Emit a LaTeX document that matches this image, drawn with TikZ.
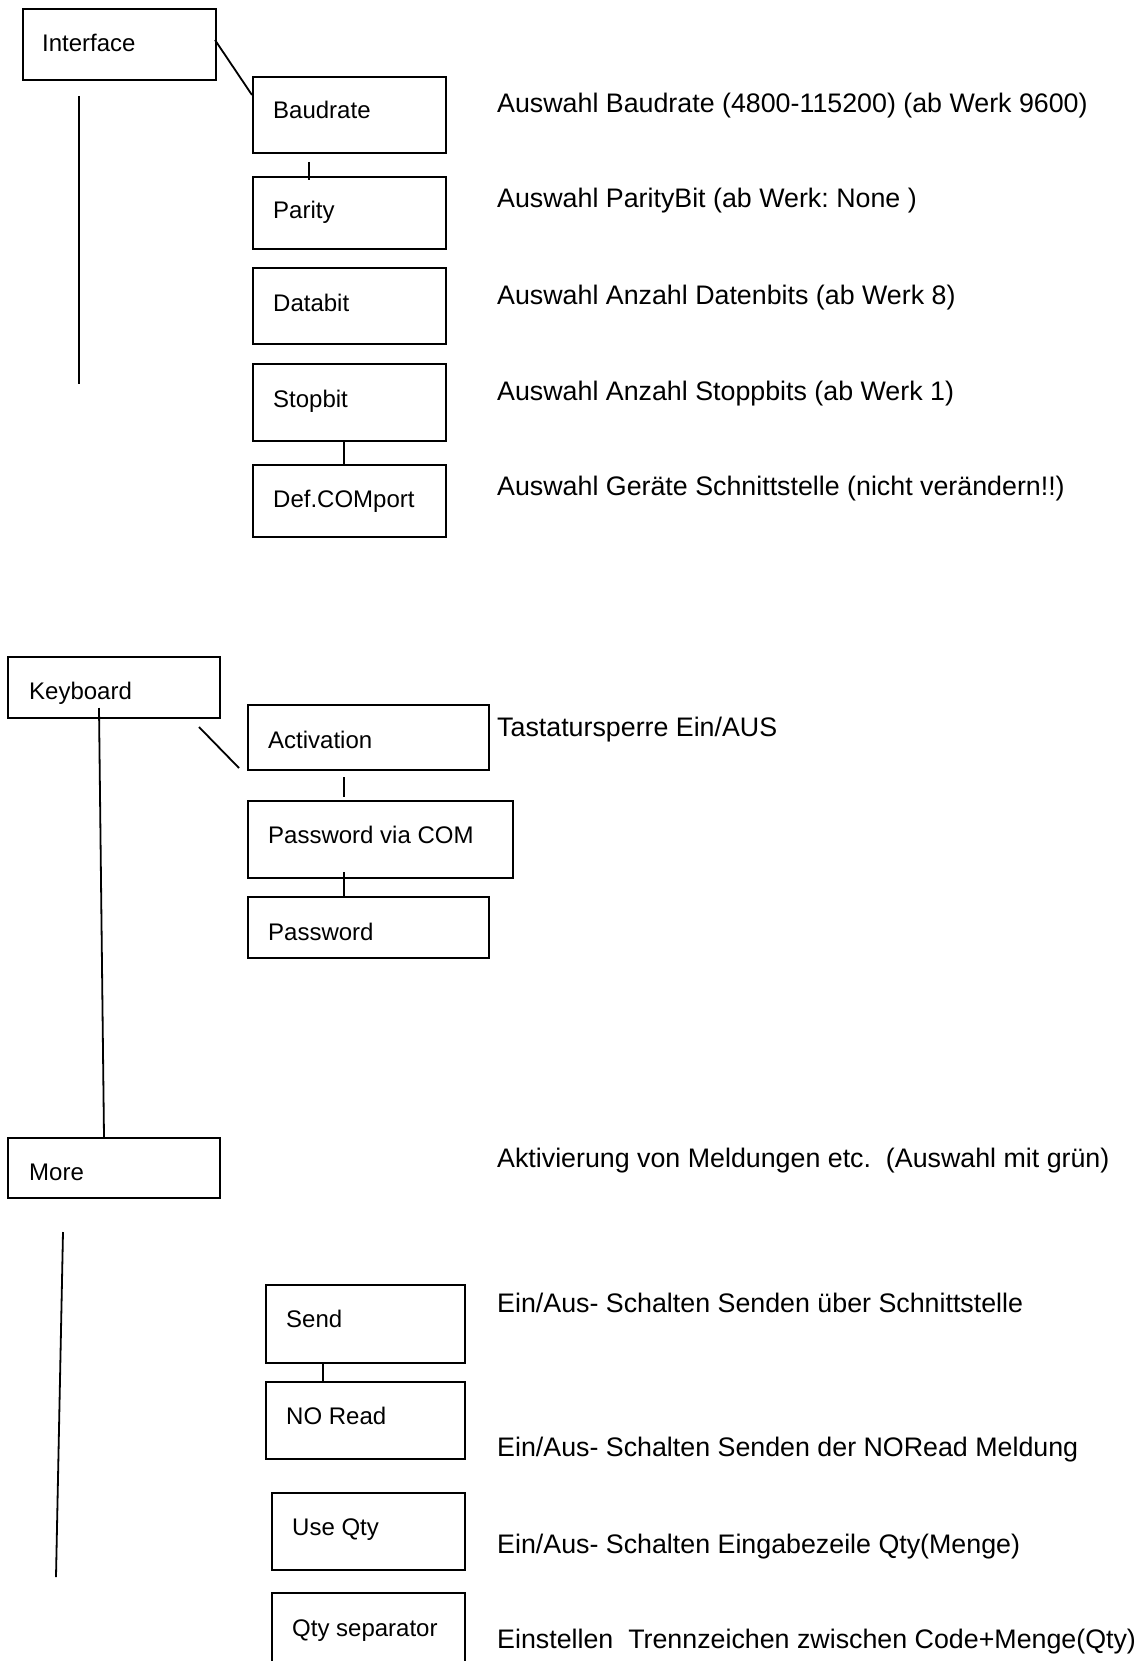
\documentclass[tikz,border=0pt]{standalone}
\usepackage{fontspec}
\setmainfont{Liberation Sans}
\frenchspacing
\begin{document}
\begin{tikzpicture}[x=1pt,y=-1pt,
  box/.style={draw, line width=1.8pt, inner sep=0pt, anchor=north west},
  lbl/.style={anchor=base west, inner sep=0pt, font=\fontsize{24}{28}\selectfont},
  desc/.style={anchor=base west, inner sep=0pt, font=\fontsize{26.8}{31}\selectfont},
  conn/.style={line width=1.8pt}]
\useasboundingbox (0,0) rectangle (1138,1661);
% ---------- Interface group ----------
\node[box, minimum width=193pt, minimum height=71pt] (iface) at (22,8) {};
\node[lbl] (ifaceT) at (42,51.5) {Interface};
\node[box, minimum width=193pt, minimum height=76pt] (baud) at (252,76) {};
\node[lbl] (baudT) at (273,118.5) {Baudrate};
\node[box, minimum width=193pt, minimum height=72pt] (par) at (252,176) {};
\node[lbl] (parT) at (273,218.5) {Parity};
\node[box, minimum width=193pt, minimum height=76pt] (dbit) at (252,267) {};
\node[lbl] (dbitT) at (273,311.5) {Databit};
\node[box, minimum width=193pt, minimum height=77pt] (sbit) at (252,363) {};
\node[lbl] (sbitT) at (273,407.5) {Stopbit};
\node[box, minimum width=193pt, minimum height=72pt] (com) at (252,464) {};
\node[lbl] (comT) at (273,507.5) {Def.COMport};
\coordinate (ifaceA) at (215,40);
\coordinate (baudA) at (252,95);
\draw[conn] (ifaceA) -- (baudA);
\coordinate (ivA) at (79,96);
\coordinate (ivB) at (79,384);
\draw[conn] (ivA) -- (ivB);
\coordinate (tkA) at (309,162);
\coordinate (tkB) at (309,180);
\draw[conn] (tkA) -- (tkB);
\draw[conn] (sbit.south -| 344,0) -- (com.north -| 344,0);
\node[desc] (d1) at (497,112.4) {Auswahl Baudrate (4800-115200) (ab Werk 9600)};
\node[desc] (d2) at (497,207.4) {Auswahl ParityBit (ab Werk: None )};
\node[desc] (d3) at (497,304.4) {Auswahl Anzahl Datenbits (ab Werk 8)};
\node[desc] (d4) at (497,400.4) {Auswahl Anzahl Stoppbits (ab Werk 1)};
\node[desc] (d5) at (497,495.4) {Auswahl Geräte Schnittstelle (nicht verändern!!)};
% ---------- Keyboard group ----------
\node[box, minimum width=212pt, minimum height=61pt] (kb) at (7,656) {};
\node[lbl] (kbT) at (29,699.5) {Keyboard};
\node[box, minimum width=241pt, minimum height=65pt] (act) at (247,704) {};
\node[lbl] (actT) at (268,748.5) {Activation};
\node[box, minimum width=265pt, minimum height=77pt] (pvc) at (247,800) {};
\node[lbl] (pvcT) at (268,843.5) {Password via COM};
\node[box, minimum width=241pt, minimum height=61pt] (pw) at (247,896) {};
\node[lbl] (pwT) at (268,940.5) {Password};
\coordinate (kdA) at (199,727);
\coordinate (kdB) at (239,768);
\draw[conn] (kdA) -- (kdB);
\coordinate (t2A) at (344,777);
\coordinate (t2B) at (344,797);
\draw[conn] (t2A) -- (t2B);
\coordinate (t3A) at (344,872);
\draw[conn] (t3A) -- (pw.north -| 344,0);
\node[desc] (d6) at (497,736.4) {Tastatursperre Ein/AUS};
% ---------- More group ----------
\node[box, minimum width=212pt, minimum height=60pt] (more) at (7,1137) {};
\node[lbl] (moreT) at (29,1180.5) {More};
\coordinate (kbL) at (99,708);
\draw[conn] (kbL) -- (104,1137);
\coordinate (mvA) at (63,1232);
\coordinate (mvB) at (56,1577);
\draw[conn] (mvA) -- (mvB);
\node[box, minimum width=199pt, minimum height=78pt] (send) at (265,1284) {};
\node[lbl] (sendT) at (286,1327.5) {Send};
\node[box, minimum width=199pt, minimum height=77pt] (nor) at (265,1381) {};
\node[lbl] (norT) at (286,1424.5) {NO Read};
\node[box, minimum width=193pt, minimum height=77pt] (uq) at (271,1492) {};
\node[lbl] (uqT) at (292,1535.5) {Use Qty};
\node[box, minimum width=193pt, minimum height=90pt] (qs) at (271,1592) {};
\node[lbl] (qsT) at (292,1636.5) {Qty separator};
\draw[conn] (send.south -| 323,0) -- (nor.north -| 323,0);
\node[desc] (d7) at (497,1167.4) {Aktivierung von Meldungen etc.\ \ (Auswahl mit grün)};
\node[desc] (d8) at (497,1312.4) {Ein/Aus- Schalten Senden über Schnittstelle};
\node[desc] (d9) at (497,1456.4) {Ein/Aus- Schalten Senden der NORead Meldung};
\node[desc] (d10) at (497,1553.4) {Ein/Aus- Schalten Eingabezeile Qty(Menge)};
\node[desc] (d11) at (497,1648.4) {Einstellen\ \ Trennzeichen zwischen Code+Menge(Qty)};
\end{tikzpicture}
\end{document}
